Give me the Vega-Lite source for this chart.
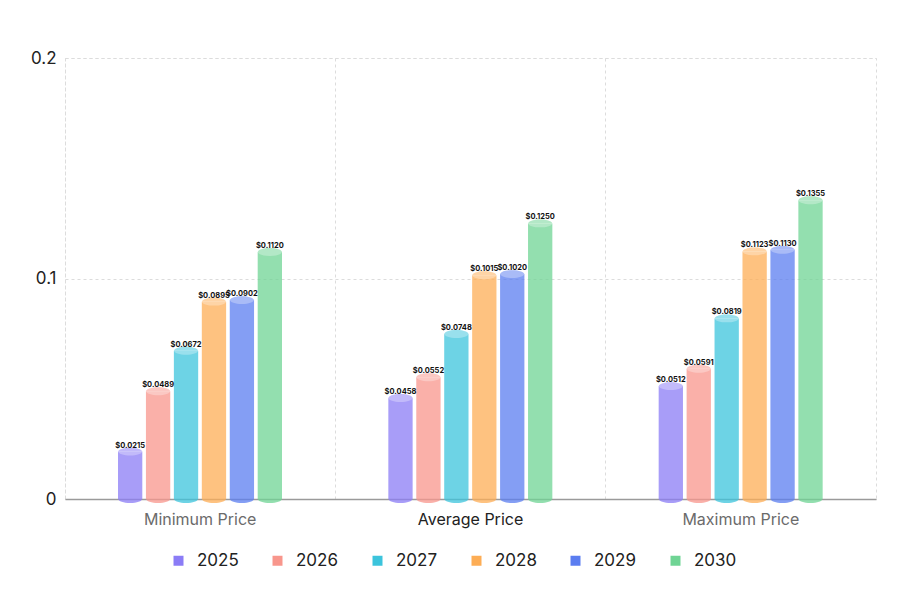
{
  "$schema": "https://vega.github.io/schema/vega-lite/v6.json",
  "width": 811,
  "height": 441,
  "autosize": "none",
  "padding": {"left": 65, "top": 58, "right": 25, "bottom": 102},
  "background": "white",
  "data": {
    "values": [
      {"category": "Minimum Price", "year": "2025", "price": 0.0215},
      {"category": "Minimum Price", "year": "2026", "price": 0.0489},
      {"category": "Minimum Price", "year": "2027", "price": 0.0672},
      {"category": "Minimum Price", "year": "2028", "price": 0.0895},
      {"category": "Minimum Price", "year": "2029", "price": 0.0902},
      {"category": "Minimum Price", "year": "2030", "price": 0.1120},
      {"category": "Average Price", "year": "2025", "price": 0.0458},
      {"category": "Average Price", "year": "2026", "price": 0.0552},
      {"category": "Average Price", "year": "2027", "price": 0.0748},
      {"category": "Average Price", "year": "2028", "price": 0.1015},
      {"category": "Average Price", "year": "2029", "price": 0.1020},
      {"category": "Average Price", "year": "2030", "price": 0.1250},
      {"category": "Maximum Price", "year": "2025", "price": 0.0512},
      {"category": "Maximum Price", "year": "2026", "price": 0.0591},
      {"category": "Maximum Price", "year": "2027", "price": 0.0819},
      {"category": "Maximum Price", "year": "2028", "price": 0.1123},
      {"category": "Maximum Price", "year": "2029", "price": 0.1130},
      {"category": "Maximum Price", "year": "2030", "price": 0.1355}
    ]
  },
  "encoding": {
    "x": {
      "field": "category",
      "type": "nominal",
      "sort": ["Minimum Price", "Average Price", "Maximum Price"],
      "scale": {"paddingInner": 0, "paddingOuter": 0},
      "axis": {
        "title": null,
        "labelAngle": 0,
        "labelFontSize": 16,
        "labelPadding": 12,
        "labelColor": {"condition": {"test": "datum.value === 'Average Price'", "value": "#222222"}, "value": "#6b6b6b"},
        "ticks": false,
        "domainColor": "#9a9a9a",
        "domainWidth": 1.5,
        "grid": true,
        "bandPosition": 0,
        "gridColor": "#dcdcdc",
        "gridDash": [3, 3]
      }
    },
    "xOffset": {
      "field": "year",
      "type": "nominal",
      "scale": {"range": [53, 217], "paddingInner": 0.13, "paddingOuter": 0}
    },
    "color": {
      "field": "year",
      "type": "nominal",
      "scale": {
        "domain": ["2025", "2026", "2027", "2028", "2029", "2030"],
        "range": ["#8b7cf6", "#f8968c", "#3cc4dc", "#fdad55", "#5b7df0", "#6fd494"]
      },
      "legend": {
        "title": null,
        "orient": "none",
        "direction": "horizontal",
        "legendX": 105,
        "legendY": 494,
        "symbolType": "square",
        "symbolSize": 100,
        "symbolOpacity": 1,
        "symbolStrokeWidth": 0,
        "labelFontSize": 17,
        "labelColor": "#222222",
        "labelOffset": 10,
        "columnPadding": 30
      }
    }
  },
  "layer": [
    {
      "mark": {"type": "bar", "opacity": 0.75},
      "encoding": {
        "y": {
          "field": "price",
          "type": "quantitative",
          "scale": {"domain": [0, 0.2]},
          "axis": {
            "title": null,
            "values": [0, 0.1, 0.2],
            "format": "~g",
            "labelFontSize": 17,
            "labelColor": "#222222",
            "labelPadding": 9,
            "ticks": false,
            "domain": false,
            "gridColor": "#dcdcdc",
            "gridDash": [3, 3]
          }
        }
      }
    },
    {
      "mark": {
        "type": "point",
        "filled": true,
        "opacity": 0.75,
        "strokeWidth": 0,
        "size": 576,
        "shape": "M-1,0 A1,0.33 0 0,0 1,0 Z"
      },
      "encoding": {"y": {"datum": 0}}
    },
    {
      "mark": {
        "type": "point",
        "filled": true,
        "opacity": 0.75,
        "strokeWidth": 0,
        "size": 576,
        "shape": "M-1,0 A1,0.33 0 0,1 1,0 Z"
      },
      "encoding": {"y": {"field": "price", "type": "quantitative"}}
    },
    {
      "mark": {
        "type": "point",
        "filled": true,
        "opacity": 0.3,
        "strokeWidth": 0,
        "size": 576,
        "shape": "M-1,0 A1,0.33 0 1,1 1,0 A1,0.33 0 1,1 -1,0 Z"
      },
      "encoding": {"y": {"field": "price", "type": "quantitative"}, "color": {"value": "white"}}
    },
    {
      "mark": {
        "type": "text",
        "fontSize": 7.5,
        "fontWeight": "bold",
        "baseline": "alphabetic",
        "dy": -4
      },
      "encoding": {
        "y": {"field": "price", "type": "quantitative"},
        "text": {"field": "price", "type": "quantitative", "format": "$.4f"},
        "color": {"value": "#111111"}
      }
    }
  ],
  "config": {
    "font": "Inter",
    "view": {"stroke": "#dcdcdc", "strokeDash": [3, 3]}
  }
}
